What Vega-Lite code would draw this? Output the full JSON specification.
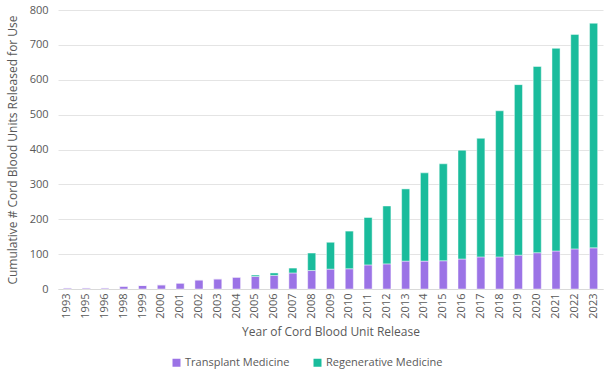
{
  "$schema": "https://vega.github.io/schema/vega-lite/v6.json",
  "width": 545,
  "height": 279,
  "autosize": {"type": "none"},
  "padding": {"left": 58, "top": 10, "right": 7, "bottom": 88},
  "background": "white",
  "config": {
    "font": "Open Sans",
    "view": {"stroke": null},
    "axis": {"labelColor": "#595959", "titleColor": "#595959", "labelFontSize": 11, "titleFontSize": 12, "titleFontWeight": "normal"},
    "legend": {"labelColor": "#595959", "labelFontSize": 11}
  },
  "data": {
    "values": [
      {"year": "1993", "category": "Transplant Medicine", "count": 3},
      {"year": "1995", "category": "Transplant Medicine", "count": 3},
      {"year": "1996", "category": "Transplant Medicine", "count": 3},
      {"year": "1998", "category": "Transplant Medicine", "count": 8},
      {"year": "1999", "category": "Transplant Medicine", "count": 10},
      {"year": "2000", "category": "Transplant Medicine", "count": 12},
      {"year": "2001", "category": "Transplant Medicine", "count": 17},
      {"year": "2002", "category": "Transplant Medicine", "count": 26},
      {"year": "2003", "category": "Transplant Medicine", "count": 29},
      {"year": "2004", "category": "Transplant Medicine", "count": 34},
      {"year": "2005", "category": "Transplant Medicine", "count": 36},
      {"year": "2006", "category": "Transplant Medicine", "count": 39},
      {"year": "2007", "category": "Transplant Medicine", "count": 46},
      {"year": "2008", "category": "Transplant Medicine", "count": 53},
      {"year": "2009", "category": "Transplant Medicine", "count": 57},
      {"year": "2010", "category": "Transplant Medicine", "count": 58},
      {"year": "2011", "category": "Transplant Medicine", "count": 69},
      {"year": "2012", "category": "Transplant Medicine", "count": 72},
      {"year": "2013", "category": "Transplant Medicine", "count": 80},
      {"year": "2014", "category": "Transplant Medicine", "count": 80},
      {"year": "2015", "category": "Transplant Medicine", "count": 81},
      {"year": "2016", "category": "Transplant Medicine", "count": 86},
      {"year": "2017", "category": "Transplant Medicine", "count": 92},
      {"year": "2018", "category": "Transplant Medicine", "count": 92},
      {"year": "2019", "category": "Transplant Medicine", "count": 97},
      {"year": "2020", "category": "Transplant Medicine", "count": 104},
      {"year": "2021", "category": "Transplant Medicine", "count": 109},
      {"year": "2022", "category": "Transplant Medicine", "count": 115},
      {"year": "2023", "category": "Transplant Medicine", "count": 118},
      {"year": "1993", "category": "Regenerative Medicine", "count": 0},
      {"year": "1995", "category": "Regenerative Medicine", "count": 0},
      {"year": "1996", "category": "Regenerative Medicine", "count": 0},
      {"year": "1998", "category": "Regenerative Medicine", "count": 0},
      {"year": "1999", "category": "Regenerative Medicine", "count": 0},
      {"year": "2000", "category": "Regenerative Medicine", "count": 0},
      {"year": "2001", "category": "Regenerative Medicine", "count": 0},
      {"year": "2002", "category": "Regenerative Medicine", "count": 0},
      {"year": "2003", "category": "Regenerative Medicine", "count": 0},
      {"year": "2004", "category": "Regenerative Medicine", "count": 0},
      {"year": "2005", "category": "Regenerative Medicine", "count": 4},
      {"year": "2006", "category": "Regenerative Medicine", "count": 7},
      {"year": "2007", "category": "Regenerative Medicine", "count": 14},
      {"year": "2008", "category": "Regenerative Medicine", "count": 50},
      {"year": "2009", "category": "Regenerative Medicine", "count": 77},
      {"year": "2010", "category": "Regenerative Medicine", "count": 108},
      {"year": "2011", "category": "Regenerative Medicine", "count": 136},
      {"year": "2012", "category": "Regenerative Medicine", "count": 166},
      {"year": "2013", "category": "Regenerative Medicine", "count": 207},
      {"year": "2014", "category": "Regenerative Medicine", "count": 253},
      {"year": "2015", "category": "Regenerative Medicine", "count": 278},
      {"year": "2016", "category": "Regenerative Medicine", "count": 312},
      {"year": "2017", "category": "Regenerative Medicine", "count": 340},
      {"year": "2018", "category": "Regenerative Medicine", "count": 419},
      {"year": "2019", "category": "Regenerative Medicine", "count": 489},
      {"year": "2020", "category": "Regenerative Medicine", "count": 534},
      {"year": "2021", "category": "Regenerative Medicine", "count": 581},
      {"year": "2022", "category": "Regenerative Medicine", "count": 615},
      {"year": "2023", "category": "Regenerative Medicine", "count": 644}
    ]
  },
  "mark": {"type": "bar", "stroke": "white", "strokeOpacity": 0.45, "strokeWidth": 1},
  "encoding": {
    "x": {
      "field": "year",
      "type": "ordinal",
      "scale": {"paddingInner": 0.57, "paddingOuter": 0.285},
      "axis": {
        "title": "Year of Cord Blood Unit Release",
        "labelAngle": -90,
        "ticks": false,
        "domainColor": "#d9d9d9",
        "labelPadding": 4,
        "titlePadding": 8
      }
    },
    "y": {
      "field": "count",
      "type": "quantitative",
      "stack": "zero",
      "scale": {"domain": [0, 800], "nice": false},
      "axis": {
        "title": "Cumulative # Cord Blood Units Released for Use",
        "values": [0, 100, 200, 300, 400, 500, 600, 700, 800],
        "domain": false,
        "ticks": false,
        "gridColor": "#e4e4e4",
        "labelPadding": 10,
        "titlePadding": 10
      }
    },
    "color": {
      "field": "category",
      "type": "nominal",
      "scale": {"domain": ["Transplant Medicine", "Regenerative Medicine"], "range": ["#9B73E6", "#1ABC9C"]},
      "legend": {
        "title": null,
        "orient": "none",
        "direction": "horizontal",
        "legendX": 113,
        "legendY": 347,
        "symbolType": "square",
        "symbolSize": 64,
        "symbolStrokeWidth": 0,
        "columnPadding": 22,
        "labelOffset": 3
      }
    },
    "order": {"field": "category", "sort": "descending"}
  }
}
